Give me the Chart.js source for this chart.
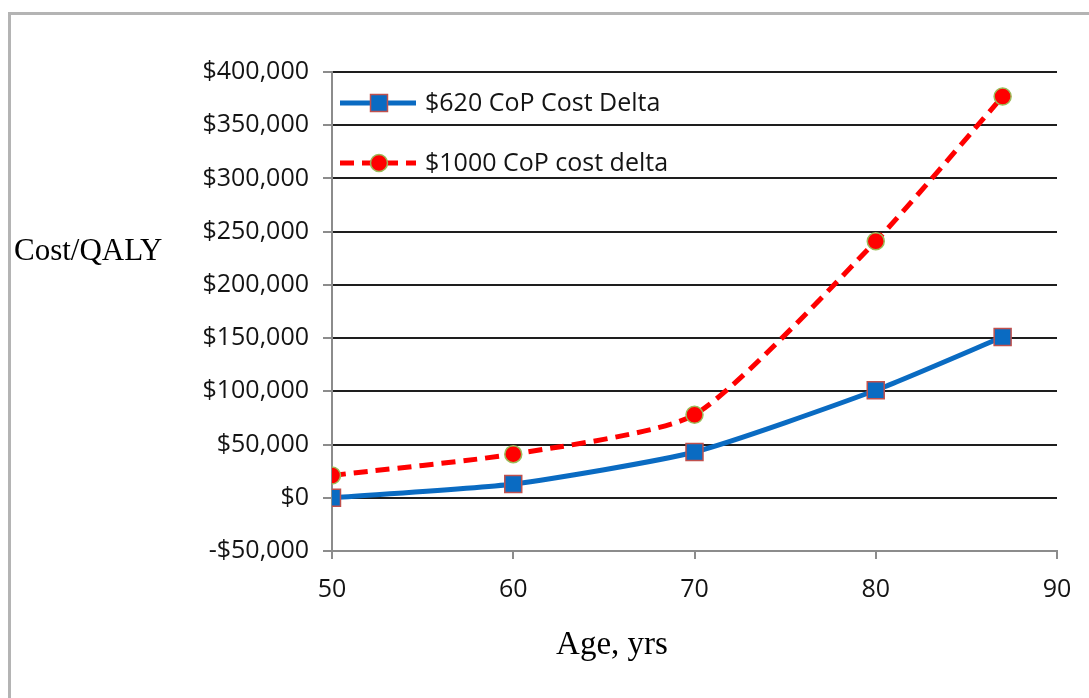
<!DOCTYPE html>
<html>
<head>
<meta charset="utf-8">
<title>Cost/QALY by Age</title>
<script src="https://cdn.jsdelivr.net/npm/chart.js@4/dist/chart.umd.min.js"></script>
<style>
  html, body { margin: 0; padding: 0; background: #fff; overflow: hidden; }
  #wrap { position: relative; width: 1089px; height: 698px; }
  #frame {
    position: absolute; left: 8px; top: 12px; width: 1200px; height: 800px;
    border-left: 3px solid #b4b4b4; border-top: 3px solid #b4b4b4;
  }
  canvas { position: absolute; left: 0; top: 0; }
</style>
</head>
<body>
<div id="wrap">
  <div id="frame"></div>
  <canvas id="chart" width="1089" height="698"></canvas>
</div>
<script>
// Ages and cost-effectiveness values for the two cost-delta scenarios
const ages = [50, 60, 70, 80, 87];
const cost620 = [0, 13000, 43000, 101000, 151000];
const cost1000 = [21000, 41000, 78000, 241000, 377000];
const seriesNames = ['$620 CoP Cost Delta', '$1000 CoP cost delta'];
const yTicks = [-50000, 0, 50000, 100000, 150000, 200000, 250000, 300000, 350000, 400000];
const xTicks = [50, 60, 70, 80, 90];
const yTitle = 'Cost/QALY';
const xTitle = 'Age, yrs';

const tickFont = { family: '"Open Sans", sans-serif', size: 25 };
const serifFont = '"Liberation Serif", "Times New Roman", serif';

function money(v) {
  const s = '$' + Math.abs(v).toLocaleString('en-US');
  return v < 0 ? '-' + s : s;
}

// Axis captions and the in-plot legend
const extras = {
  id: 'extras',
  afterDraw(chart) {
    const ctx = chart.ctx;
    ctx.save();
    ctx.fillStyle = '#000';
    ctx.font = '31px ' + serifFont;
    ctx.textBaseline = 'middle';
    ctx.textAlign = 'left';
    ctx.fillText(yTitle, 14, 252);

    ctx.font = '33px ' + serifFont;
    ctx.textAlign = 'center';
    ctx.fillText(xTitle, 612, 645);

    const rows = [103, 163];
    chart.data.datasets.forEach((ds, i) => {
      const y = rows[i];
      const x0 = 340, x1 = 416, xm = 379;
      ctx.save();
      ctx.strokeStyle = ds.borderColor;
      ctx.lineWidth = ds.borderWidth;
      ctx.setLineDash(ds.borderDash || []);
      ctx.lineCap = 'butt';
      ctx.beginPath();
      ctx.moveTo(x0, y);
      ctx.lineTo(x1, y);
      ctx.stroke();
      ctx.restore();
      ctx.save();
      ctx.fillStyle = ds.pointBackgroundColor;
      ctx.strokeStyle = ds.pointBorderColor;
      ctx.lineWidth = ds.pointBorderWidth;
      Chart.helpers.drawPoint(ctx, {
        pointStyle: ds.pointStyle,
        radius: ds.pointRadius,
        borderWidth: ds.pointBorderWidth,
        rotation: 0
      }, xm, y);
      ctx.restore();
      ctx.fillStyle = '#141414';
      ctx.textAlign = 'left';
      ctx.font = tickFont.size + 'px ' + tickFont.family;
      ctx.textBaseline = 'middle';
      ctx.fillText(ds.label, 425, y + 1);
    });
    ctx.restore();
  }
};

new Chart(document.getElementById('chart'), {
  type: 'line',
  data: {
    datasets: [
      {
        label: seriesNames[0],
        data: ages.map((a, i) => ({ x: a, y: cost620[i] })),
        borderColor: '#0A6BC2',
        borderWidth: 5,
        tension: 0.2,
        pointStyle: 'rect',
        pointRadius: 12,
        pointBackgroundColor: '#0A6BC2',
        pointBorderColor: '#C0504D',
        pointBorderWidth: 1.5
      },
      {
        label: seriesNames[1],
        data: ages.map((a, i) => ({ x: a, y: cost1000[i] })),
        borderColor: '#FF0000',
        borderWidth: 5,
        borderDash: [14, 8],
        tension: 0.2,
        pointStyle: 'circle',
        pointRadius: 8.5,
        pointBackgroundColor: '#FF0000',
        pointBorderColor: '#9BBB59',
        pointBorderWidth: 1.5
      }
    ]
  },
  options: {
    responsive: false,
    animation: false,
    layout: { padding: { top: 72, right: 32, bottom: 0, left: 0 } },
    plugins: { legend: { display: false }, tooltip: { enabled: false } },
    scales: {
      x: {
        type: 'linear',
        min: 50,
        max: 90,
        afterBuildTicks: s => { s.ticks = xTicks.map(v => ({ value: v })); },
        afterFit: s => { s.height = 147; },
        border: { color: '#8c8c8c', width: 2 },
        grid: { drawOnChartArea: false, tickColor: '#8c8c8c', tickLength: 8, lineWidth: 2 },
        ticks: { color: '#141414', font: tickFont, padding: 16, maxRotation: 0 }
      },
      y: {
        min: -50000,
        max: 400000,
        afterBuildTicks: s => { s.ticks = yTicks.map(v => ({ value: v })); },
        afterFit: s => { s.width = 332; },
        border: { color: '#8c8c8c', width: 2 },
        grid: {
          color: c => (c.tick && c.tick.value === -50000) ? 'rgba(0,0,0,0)' : '#1e1e1e',
          lineWidth: 2,
          tickColor: '#8c8c8c',
          tickLength: 9
        },
        ticks: { color: '#141414', font: tickFont, padding: 14, callback: v => money(v) }
      }
    }
  },
  plugins: [extras]
});
</script>
</body>
</html>
